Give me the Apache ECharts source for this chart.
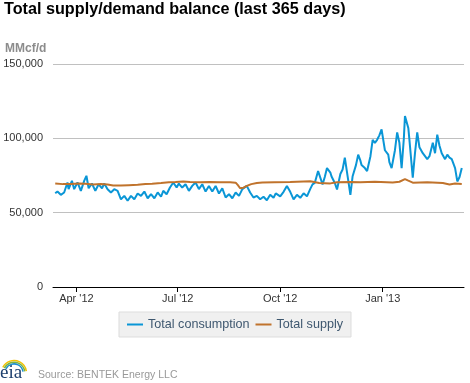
<!DOCTYPE html>
<html>
<head>
<meta charset="utf-8">
<script src="https://cdn.jsdelivr.net/npm/echarts@6/dist/echarts.min.js"></script>
<style>
html,body{margin:0;padding:0;background:#fff;}
#chart{width:470px;height:383px;}
</style>
</head>
<body>
<div id="chart"></div>
<script>
// ---- data ----
const consDates = ['2012-03-13','2012-03-15','2012-03-18','2012-03-21','2012-03-24','2012-03-25','2012-03-28','2012-03-30','2012-04-02','2012-04-05','2012-04-08','2012-04-10','2012-04-12','2012-04-15','2012-04-18','2012-04-21','2012-04-24','2012-04-26','2012-04-29','2012-05-02','2012-05-05','2012-05-08','2012-05-11','2012-05-14','2012-05-17','2012-05-20','2012-05-23','2012-05-26','2012-05-29','2012-06-01','2012-06-04','2012-06-07','2012-06-10','2012-06-13','2012-06-16','2012-06-18','2012-06-21','2012-06-24','2012-06-27','2012-06-30','2012-07-02','2012-07-05','2012-07-08','2012-07-11','2012-07-14','2012-07-17','2012-07-20','2012-07-23','2012-07-26','2012-07-29','2012-08-01','2012-08-04','2012-08-07','2012-08-10','2012-08-13','2012-08-16','2012-08-19','2012-08-22','2012-08-25','2012-08-28','2012-09-01','2012-09-04','2012-09-07','2012-09-10','2012-09-13','2012-09-16','2012-09-19','2012-09-22','2012-09-25','2012-09-27','2012-10-01','2012-10-04','2012-10-07','2012-10-10','2012-10-13','2012-10-16','2012-10-19','2012-10-22','2012-10-25','2012-10-28','2012-10-30','2012-11-01','2012-11-04','2012-11-08','2012-11-10','2012-11-12','2012-11-15','2012-11-16','2012-11-19','2012-11-21','2012-11-24','2012-11-26','2012-11-28','2012-12-01','2012-12-03','2012-12-05','2012-12-08','2012-12-10','2012-12-12','2012-12-13','2012-12-16','2012-12-18','2012-12-21','2012-12-23','2012-12-25','2012-12-27','2012-12-28','2012-12-29','2012-12-31','2013-01-03','2013-01-06','2013-01-07','2013-01-09','2013-01-10','2013-01-12','2013-01-14','2013-01-16','2013-01-18','2013-01-20','2013-01-21','2013-01-24','2013-01-25','2013-01-28','2013-01-30','2013-02-01','2013-02-03','2013-02-06','2013-02-08','2013-02-10','2013-02-12','2013-02-15','2013-02-17','2013-02-19','2013-02-21','2013-02-23','2013-02-26','2013-02-28','2013-03-02','2013-03-04','2013-03-07','2013-03-09','2013-03-11','2013-03-13'];
const consValues = [63000,64200,62000,63600,70300,65800,71400,65800,70300,64700,71400,74800,66400,69600,64700,69100,66400,69600,65800,63600,65800,64700,59000,61300,58000,61300,59000,62900,61300,64200,59700,62400,59700,63600,60700,64700,62400,66900,70300,66900,69600,66900,69100,64700,68000,70300,65800,69100,64200,68000,64200,68000,62900,66400,60200,62400,59700,63600,61300,65800,68000,63600,60200,61300,59000,60700,58400,62000,60000,63000,61000,64000,68000,64000,59000,62000,60000,63000,61000,66000,69000,70000,78000,69000,74000,80000,77000,74500,70000,65600,76000,79000,87000,72000,62000,74500,82000,89000,85000,82000,80000,78000,88000,99000,97000,99000,98000,102000,106000,92000,89000,84000,80000,79000,92000,104000,97000,80000,100000,115000,107000,99000,73600,90000,104000,94000,90000,88000,86000,88000,97000,90000,102500,95000,90000,86000,89000,87000,86000,80000,71000,74000,80000];

const supplyDates = ['2012-03-13','2012-03-20','2012-03-27','2012-04-03','2012-04-09','2012-04-16','2012-04-23','2012-04-29','2012-05-04','2012-05-11','2012-05-18','2012-05-26','2012-06-02','2012-06-08','2012-06-16','2012-06-23','2012-06-29','2012-07-06','2012-07-12','2012-07-21','2012-07-30','2012-08-08','2012-08-17','2012-08-22','2012-08-24','2012-08-26','2012-08-29','2012-09-01','2012-09-05','2012-09-10','2012-09-15','2012-09-26','2012-10-10','2012-10-28','2012-11-05','2012-11-15','2012-11-21','2012-12-03','2012-12-12','2012-12-25','2013-01-10','2013-01-16','2013-01-21','2013-01-24','2013-01-28','2013-02-10','2013-02-24','2013-03-02','2013-03-07','2013-03-13'];
const supplyValues = [69600,69200,69300,69700,69400,69000,69200,69000,68300,68200,68500,68700,69300,69500,69900,70400,70600,71000,70600,70500,70600,70400,70500,70200,68500,66400,66800,68000,69200,70000,70300,70500,70600,71200,70000,69700,70500,70600,70400,70800,70300,70800,72600,71500,70200,70400,70000,69000,69600,69300];

const xMin = '2012-03-11';
const xMax = '2013-03-15';
const tickDates = ['2012-04-01','2012-07-01','2012-10-01','2013-01-01'];
const tickLabels = ["Apr '12","Jul '12","Oct '12","Jan '13"];
const yMin = 0, yMax = 150000, yStep = 50000;

const seriesNames = ['Total consumption','Total supply'];
const titleText = 'Total supply/demand balance (last 365 days)';
const unitText = 'MMcf/d';
const sourceText = 'Source: BENTEK Energy LLC';

// ---- helpers ----
const ts = s => { const p = s.split('-').map(Number); return Date.UTC(p[0], p[1]-1, p[2]); };
const tickTs = tickDates.map(ts);
const pairs = (ds, vs) => ds.map((d, i) => [ts(d), vs[i]]);

const FONT = 'Liberation Sans, Arial, sans-serif';
const chart = echarts.init(document.getElementById('chart'), null, {renderer: 'canvas'});
chart.setOption({
  animation: false,
  backgroundColor: '#ffffff',
  title: {
    text: titleText, left: 4, top: 2, padding: 0,
    textStyle: {fontFamily: FONT, fontSize: 16.2, fontWeight: 'bold', color: '#000'}
  },
  grid: {left: 53, right: 6, top: 64, bottom: 96, containLabel: false},
  legend: {
    data: seriesNames, top: 312, left: 'center',
    backgroundColor: '#f0f0f0', borderColor: '#dddddd', borderWidth: 1,
    padding: [6, 8, 6, 8], itemGap: 6, itemWidth: 16, itemHeight: 2, icon: 'rect',
    textStyle: {fontFamily: FONT, fontSize: 12.6, color: '#3e576f'}
  },
  xAxis: {
    type: 'value', min: ts(xMin), max: ts(xMax),
    axisLine: {onZero: false, lineStyle: {color: '#000', width: 1}},
    axisTick: {show: true, customValues: tickTs, length: 5, lineStyle: {color: '#000'}},
    axisLabel: {
      customValues: tickTs, margin: 6, color: '#333', fontFamily: FONT, fontSize: 11,
      formatter: v => { const i = tickTs.indexOf(v); return i >= 0 ? tickLabels[i] : ''; }
    },
    splitLine: {show: false}
  },
  yAxis: {
    type: 'value', min: yMin, max: yMax, interval: yStep,
    axisLine: {show: false}, axisTick: {show: false},
    axisLabel: {
      margin: 10, color: '#333', fontFamily: FONT, fontSize: 11,
      formatter: v => v.toLocaleString('en-US')
    },
    splitLine: {lineStyle: {color: '#c0c0c0', width: 1}}
  },
  series: [
    {name: seriesNames[0], type: 'line', data: pairs(consDates, consValues), showSymbol: false,
     color: '#0a96d6', lineStyle: {width: 2, color: '#0a96d6'}},
    {name: seriesNames[1], type: 'line', data: pairs(supplyDates, supplyValues), showSymbol: false,
     color: '#c0732c', lineStyle: {width: 2, color: '#c0732c'}}
  ],
  graphic: [
    {type: 'text', left: 5, top: 43, style: {text: unitText, fill: '#8c8c8c', font: 'bold 12px ' + FONT}},
    {type: 'text', left: 38, top: 370, style: {text: sourceText, fill: '#999', font: '10.5px ' + FONT}},
    {type: 'text', left: 0, top: 364, style: {text: 'eia', fill: '#1d3f6e', font: '19px Liberation Serif, serif'}},
    {type: 'arc', shape: {cx: 14, cy: 373, r: 12.5, startAngle: Math.PI*1.15, endAngle: Math.PI*1.95, clockwise: true}, style: {stroke: '#f2c200', lineWidth: 1.5, fill: null}},
    {type: 'arc', shape: {cx: 14, cy: 373, r: 10.8, startAngle: Math.PI*1.15, endAngle: Math.PI*1.95, clockwise: true}, style: {stroke: '#7cb342', lineWidth: 1.5, fill: null}},
    {type: 'arc', shape: {cx: 14, cy: 373, r: 9.1, startAngle: Math.PI*1.15, endAngle: Math.PI*1.95, clockwise: true}, style: {stroke: '#1e90d0', lineWidth: 1.5, fill: null}}
  ]
});
</script>
</body>
</html>
